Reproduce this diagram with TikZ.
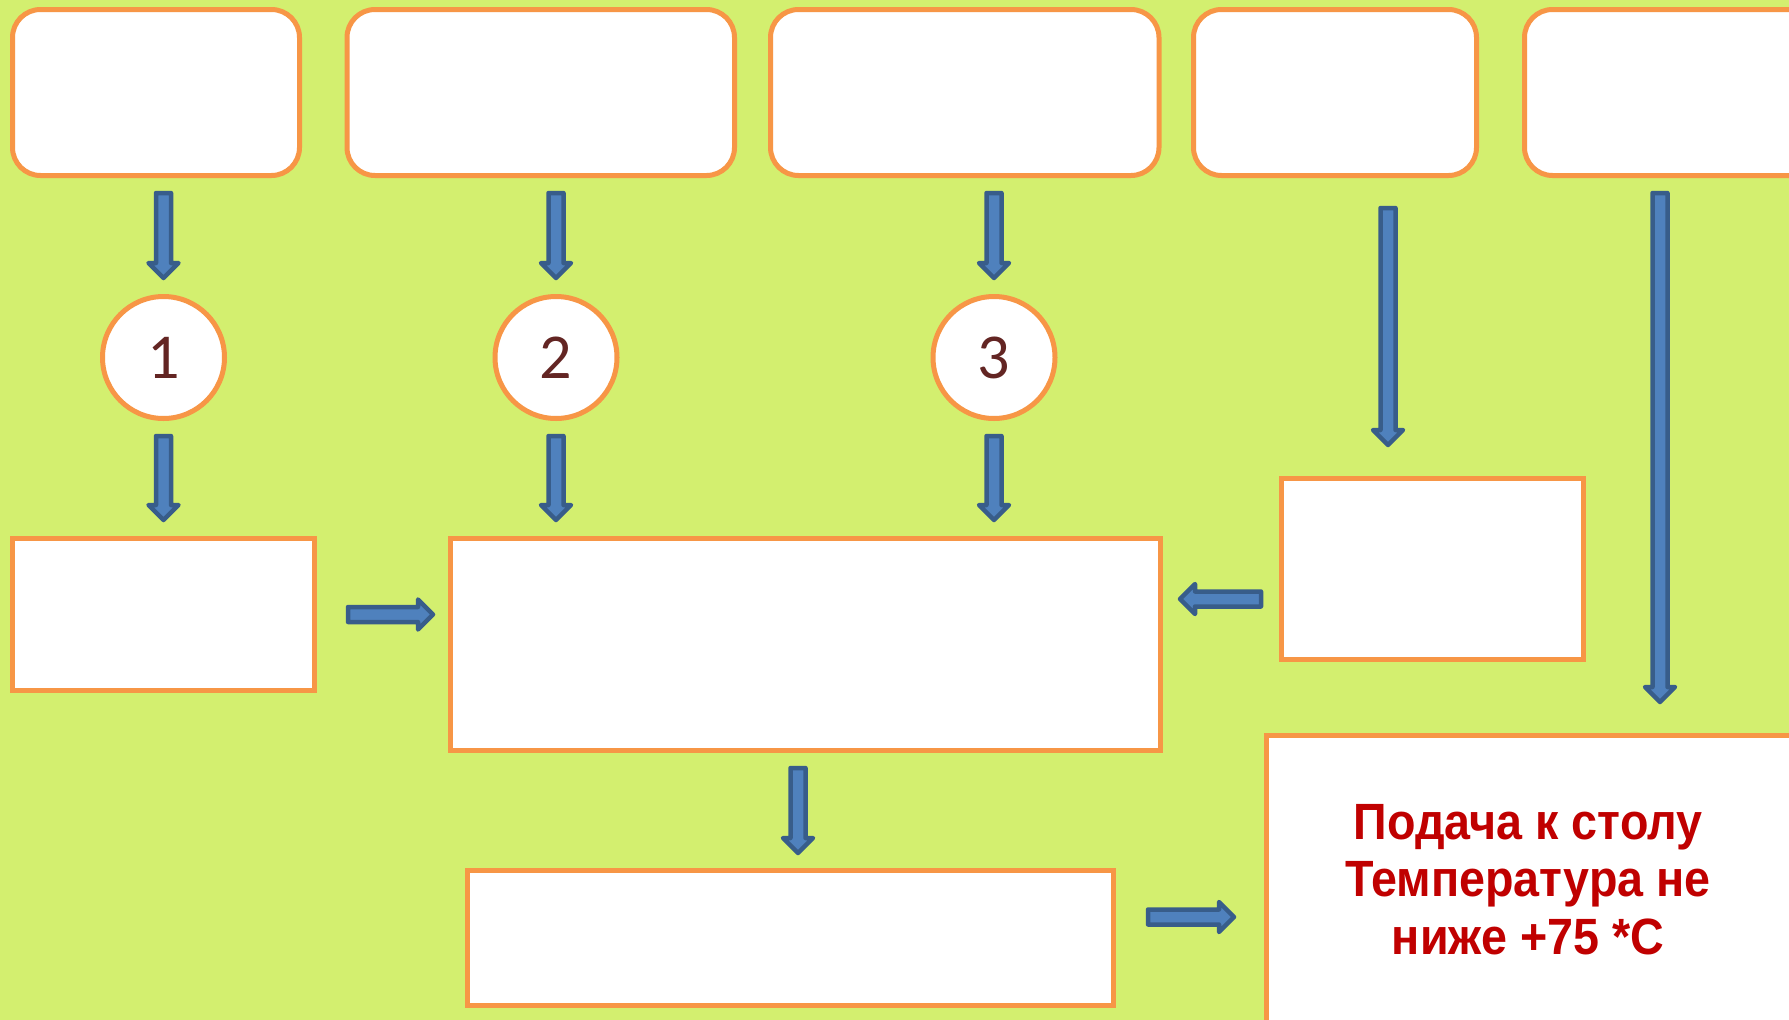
\documentclass[tikz,border=0pt]{standalone}
\usepackage{fontspec}
\setmainfont{Liberation Sans}
\newfontfamily\numfont{Carlito}
\newfontfamily\notefont[FakeStretch=0.915]{Liberation Sans}
\usetikzlibrary{calc}

\definecolor{bggreen}{RGB}{211,239,111}
\definecolor{boxorange}{RGB}{247,150,70}
\definecolor{arrfill}{RGB}{79,129,189}
\definecolor{arrline}{RGB}{56,93,138}
\definecolor{numbrown}{RGB}{99,37,35}
\definecolor{textred}{RGB}{192,0,0}

% block arrow from coordinate #1 to coordinate #2
\newcommand\blockarrow[2]{%
  \coordinate (#1#2q) at ($(#2)!15pt!(#1)$);
  \draw[barrow] ($(#1)!7.5pt!90:(#2)$) -- ($(#1#2q)!7.5pt!90:(#2)$)
    -- ($(#1#2q)!15pt!90:(#2)$) -- (#2) -- ($(#1#2q)!15pt!-90:(#2)$)
    -- ($(#1#2q)!7.5pt!-90:(#2)$) -- ($(#1)!7.5pt!-90:(#2)$) -- cycle;}

\tikzset{
  topbox/.style={draw=boxorange, line width=5pt, fill=white, rounded corners=28pt,
    minimum height=166pt, inner sep=0pt},
  plainbox/.style={draw=boxorange, line width=5pt, fill=white, inner sep=0pt},
  numcircle/.style={circle, draw=boxorange, line width=5pt, fill=white,
    minimum size=122pt, inner sep=0pt, text=numbrown,
    font=\numfont\fontsize{64}{70}\selectfont},
  barrow/.style={draw=arrline, fill=arrfill, line width=4.5pt, line join=round},
}

\begin{document}
\begin{tikzpicture}[x=1pt, y=-1pt]
\useasboundingbox (0,0) rectangle (1789,1020);
\fill[bggreen] (0,0) rectangle (1789,1020);

% top row of rounded boxes
\node[topbox, minimum width=287pt]   (b1) at (156,92.5) {};
\node[topbox, minimum width=387.5pt] (b2) at (540.75,92.5) {};
\node[topbox, minimum width=388.5pt] (b3) at (964.75,92.5) {};
\node[topbox, minimum width=283pt]   (b4) at (1335,92.5) {};
\node[topbox, minimum width=305pt]   (b5) at (1677,92.5) {};

% numbered circles
\node[numcircle] (c1) at (163.5,357.5) {1};
\node[numcircle] (c2) at (556,357.5) {2};
\node[numcircle] (c3) at (994,357.5) {3};

% rectangular boxes
\node[plainbox, minimum width=302pt, minimum height=152pt] (l) at (163.5,614.5) {};
\node[plainbox, minimum width=710pt, minimum height=212pt] (m) at (805.5,644.5) {};
\node[plainbox, minimum width=302pt, minimum height=181pt] (r) at (1432.5,569) {};
\node[plainbox, minimum width=646pt, minimum height=135pt] (d) at (790.5,938) {};
\node[plainbox, minimum width=533.5pt, minimum height=304.5pt] (f) at (1533.25,887.75) {};
\node[text=textred, align=center, inner sep=0pt,
  font=\notefont\bfseries\fontsize{51}{57.5}\selectfont] (t) at (1528,879.5)
  {Подача к столу\\Температура не\\ниже +75 *С};

% arrow end points
\coordinate (a1s) at ($(c1|-b1.south)+(0,15)$);
\coordinate (a1e) at ($(c1.north)+(0,-16)$);
\coordinate (a2s) at ($(c2|-b2.south)+(0,15)$);
\coordinate (a2e) at ($(c2.north)+(0,-16)$);
\coordinate (a3s) at ($(c3|-b3.south)+(0,15)$);
\coordinate (a3e) at ($(c3.north)+(0,-16)$);
\coordinate (k1s) at ($(c1.south)+(0,15)$);
\coordinate (k1e) at ($(c1|-l.north)+(0,-16)$);
\coordinate (k2s) at ($(c2.south)+(0,15)$);
\coordinate (k2e) at ($(c2|-m.north)+(0,-16)$);
\coordinate (k3s) at ($(c3.south)+(0,15)$);
\coordinate (k3e) at ($(c3|-m.north)+(0,-16)$);
\coordinate (a4s) at ($(b4.south)+(53,30)$);
\coordinate (a4e) at ($(b4.south|-r.north)+(53,-31)$);
\coordinate (a5s) at ($(b5.south)+(-17,15)$);
\coordinate (a5e) at ($(b5.south|-f.north)+(-17,-31)$);
\coordinate (h1s) at ($(l.east)+(31,0)$);
\coordinate (h1e) at ($(m.west|-l.east)+(-15,0)$);
\coordinate (h2s) at ($(r.west)+(-18,30)$);
\coordinate (h2e) at ($(m.east|-h2s)+(17,0)$);
\coordinate (vs)  at ($(m.south)+(-7.5,15)$);
\coordinate (ve)  at ($(d.north)+(7.5,-15)$);
\coordinate (h3s) at ($(d.east)+(32,-21)$);
\coordinate (h3e) at ($(f.west|-h3s)+(-30,0)$);

% connectors
\blockarrow{a1s}{a1e}
\blockarrow{a2s}{a2e}
\blockarrow{a3s}{a3e}
\blockarrow{k1s}{k1e}
\blockarrow{k2s}{k2e}
\blockarrow{k3s}{k3e}
\blockarrow{a4s}{a4e}
\blockarrow{a5s}{a5e}
\blockarrow{h1s}{h1e}
\blockarrow{h2s}{h2e}
\blockarrow{vs}{ve}
\blockarrow{h3s}{h3e}
\end{tikzpicture}
\end{document}
